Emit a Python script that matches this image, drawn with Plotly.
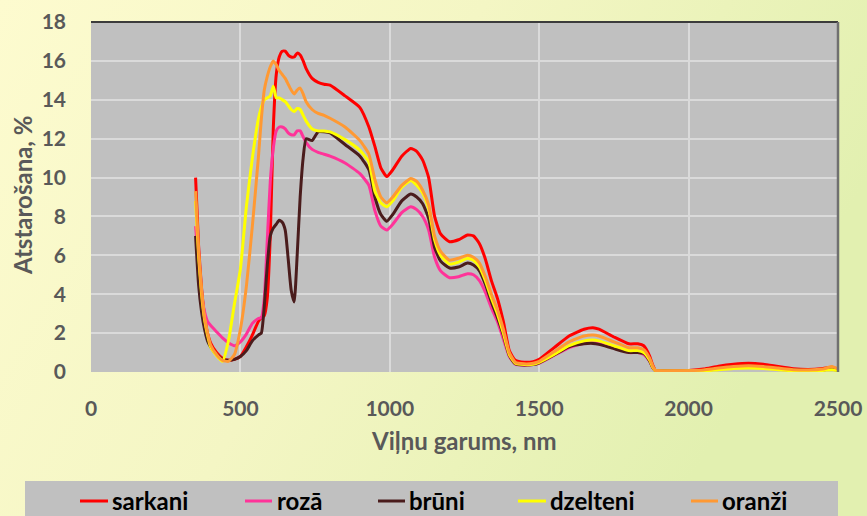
import base64
import plotly.graph_objects as go

# Wavelength grid (nm)
wavelength = [
    350, 360, 370, 380, 390, 400, 420, 440, 460, 480, 500,
    520, 540, 560, 570, 580, 590,
    600, 610, 620, 630, 640, 650, 660, 670, 680, 690, 700, 710, 720,
    740, 760, 780, 800, 850, 900, 930, 950, 970, 990,
    1010, 1040, 1070, 1090, 1110, 1130, 1150, 1170,
    1200, 1230, 1260, 1280, 1300, 1320, 1340, 1360, 1380, 1400, 1420,
    1450, 1480, 1500, 1550, 1600, 1650, 1680, 1700, 1750, 1800,
    1830, 1850, 1870, 1880, 1890, 1900, 1950, 2000,
    2050, 2100, 2150, 2200, 2250, 2300, 2350, 2400, 2450, 2480, 2500,
]

# Reflectance (%) per sample
sarkani = [
    10.0, 6.5, 4.3, 2.9, 2.0, 1.5, 1.0, 0.7, 0.6, 0.65, 0.8,
    1.3, 1.9, 2.6, 2.8, 2.9, 3.8,
    7.0, 12.5, 15.3, 16.2, 16.5, 16.5, 16.3, 16.2, 16.2, 16.4, 16.3, 16.0, 15.6,
    15.1, 14.9, 14.8, 14.75, 14.2, 13.6, 12.6, 11.6, 10.5, 10.05,
    10.4, 11.1, 11.5, 11.35, 10.9, 10.0, 8.0, 7.1,
    6.7, 6.8, 7.05, 7.0, 6.6, 5.8, 4.7, 3.8, 2.6, 1.1, 0.6,
    0.5, 0.53, 0.65, 1.25, 1.85, 2.2, 2.28, 2.2, 1.8, 1.45,
    1.45, 1.35, 0.8, 0.35, 0.07, 0.06, 0.06, 0.08,
    0.15, 0.3, 0.4, 0.45, 0.4, 0.28, 0.17, 0.13, 0.18, 0.25, 0.12,
]
roza = [
    7.5, 5.5, 4.0, 3.1, 2.6, 2.4, 2.07, 1.75, 1.5, 1.35, 1.55,
    1.95, 2.5, 2.75, 2.8, 3.8, 6.8,
    9.8, 11.5, 12.4, 12.6, 12.6, 12.5, 12.3, 12.2, 12.2, 12.4, 12.4, 12.1, 11.8,
    11.45, 11.3, 11.2, 11.1, 10.75, 10.2, 9.6, 8.3, 7.5, 7.3,
    7.6, 8.2, 8.5, 8.35, 8.0, 7.3, 5.9, 5.2,
    4.85, 4.9, 5.05, 5.0, 4.7, 4.1, 3.3, 2.6, 1.7, 0.8, 0.4,
    0.35, 0.38, 0.45, 0.85, 1.25, 1.48, 1.5, 1.45, 1.25, 1.0,
    1.0, 0.9, 0.55, 0.22, 0.06, 0.05, 0.05, 0.06,
    0.07, 0.16, 0.23, 0.26, 0.22, 0.15, 0.09, 0.08, 0.1, 0.18, 0.1,
]
bruni = [
    7.0, 4.5, 3.1, 2.2, 1.6, 1.3, 0.9, 0.65, 0.6, 0.65, 0.8,
    1.1, 1.6, 1.9, 2.0, 3.4, 5.5,
    7.0, 7.4, 7.6, 7.8, 7.7, 7.3, 5.8, 4.2, 3.6, 6.0, 9.0, 11.0, 12.0,
    11.9, 12.35, 12.35, 12.3, 11.7, 11.1, 10.4, 9.0, 8.1, 7.75,
    8.1, 8.8, 9.15, 9.0, 8.65, 7.9, 6.4, 5.7,
    5.35, 5.4, 5.6, 5.5, 5.2, 4.5, 3.6, 2.8, 1.9, 0.85, 0.42,
    0.36, 0.38, 0.47, 0.88, 1.3, 1.45, 1.47, 1.42, 1.2, 1.0,
    1.0, 0.95, 0.55, 0.22, 0.06, 0.05, 0.05, 0.06,
    0.08, 0.18, 0.27, 0.3, 0.26, 0.17, 0.1, 0.08, 0.1, 0.16, 0.08,
]
dzelteni = [
    8.8, 6.0, 4.0, 2.7, 1.9, 1.3, 0.85, 0.55, 1.6, 3.5, 5.3,
    8.5, 11.0, 13.0, 13.6, 14.0, 14.1,
    14.2, 14.7, 14.1, 14.1, 14.0, 13.9, 13.7, 13.5, 13.4, 13.55, 13.5, 13.2, 12.9,
    12.5, 12.4, 12.4, 12.35, 11.95, 11.4, 10.8, 9.3, 8.7, 8.5,
    8.8, 9.5, 9.85, 9.6, 9.2, 8.4, 6.8, 6.0,
    5.55, 5.65, 5.85, 5.75, 5.4, 4.7, 3.8, 3.0, 2.0, 0.9, 0.45,
    0.38, 0.4, 0.5, 0.9, 1.35, 1.6, 1.65, 1.6, 1.35, 1.1,
    1.1, 1.0, 0.6, 0.25, 0.06, 0.05, 0.05, 0.06,
    0.05, 0.12, 0.18, 0.2, 0.18, 0.12, 0.07, 0.06, 0.08, 0.12, 0.08,
]
oranzi = [
    9.3, 6.2, 4.2, 2.8, 2.0, 1.4, 0.9, 0.6, 0.55, 0.9, 2.2,
    4.4, 7.5, 11.0, 13.0, 14.5, 15.2,
    15.7, 16.0, 15.8, 15.5, 15.3, 15.1, 14.8, 14.5, 14.3, 14.5, 14.6, 14.3, 13.9,
    13.5, 13.3, 13.2, 13.05, 12.6, 11.9, 11.2, 9.9, 9.0, 8.7,
    9.0, 9.6, 9.95, 9.8, 9.35, 8.6, 7.0, 6.2,
    5.75, 5.85, 6.0, 5.9, 5.6, 4.9, 4.0, 3.2, 2.2, 1.0, 0.5,
    0.42, 0.45, 0.55, 1.05, 1.55, 1.85, 1.9, 1.85, 1.55, 1.25,
    1.25, 1.15, 0.7, 0.3, 0.07, 0.06, 0.06, 0.07,
    0.1, 0.2, 0.28, 0.32, 0.28, 0.2, 0.12, 0.1, 0.15, 0.28, 0.15,
]

series_names = ["sarkani", "rozā", "brūni", "dzelteni", "oranži"]
series_values = [sarkani, roza, bruni, dzelteni, oranzi]
series_colors = ["#ff0000", "#ff3399", "#4a1c1c", "#ffff00", "#ff9933"]

x_ticks = [0, 500, 1000, 1500, 2000, 2500]
y_ticks = [0, 2, 4, 6, 8, 10, 12, 14, 16, 18]

W, H = 867, 516
ML, MR, MT, MB = 91, 29, 22, 144
PW, PH = W - ML - MR, H - MT - MB

TEXT_GRAY = "#595959"
FONT = "Lato"


def px_x(px):
    return (px - ML) / PW


def px_y(py):
    return (H - MB - py) / PH


fig = go.Figure()
for name, vals, col in zip(series_names, series_values, series_colors):
    fig.add_trace(go.Scatter(
        x=wavelength, y=vals, name=name, mode="lines",
        line=dict(color=col, width=3, shape="spline", smoothing=0.5),
        showlegend=False,
    ))

# Pale yellow-green page background
svg = (
    f'<svg xmlns="http://www.w3.org/2000/svg" width="{W}" height="{H}">'
    '<defs><linearGradient id="g" x1="0" y1="0" x2="1" y2="0.35">'
    '<stop offset="0" stop-color="#fdfbcf"/>'
    '<stop offset="0.5" stop-color="#f4f6c4"/>'
    '<stop offset="1" stop-color="#e2f0b0"/>'
    '</linearGradient></defs>'
    f'<rect width="{W}" height="{H}" fill="url(#g)"/></svg>'
)
bg_src = "data:image/svg+xml;base64," + base64.b64encode(svg.encode()).decode()

shapes = [
    # plot area fill
    dict(type="rect", xref="paper", yref="paper", x0=0, x1=1, y0=0, y1=1,
         fillcolor="#c0c0c0", line=dict(width=0), layer="below"),
    # top and right edges of the plot area
    dict(type="line", xref="paper", yref="paper", x0=0, x1=1, y0=1, y1=1,
         line=dict(color="#3c3c3c", width=2), layer="above"),
    dict(type="line", xref="paper", yref="paper", x0=1, x1=1, y0=0, y1=1,
         line=dict(color="#707070", width=2.5), layer="above"),
    # legend box
    dict(type="rect", xref="paper", yref="paper",
         x0=px_x(25), x1=px_x(838), y0=px_y(481), y1=px_y(530),
         fillcolor="#c0c0c0", line=dict(width=0), layer="below"),
]

annotations = [
    dict(text="Viļņu garums, nm", xref="paper", yref="paper",
         x=px_x(464), y=px_y(440), xanchor="center", yanchor="middle",
         showarrow=False, font=dict(family=FONT, size=24, color=TEXT_GRAY, weight="bold")),
    dict(text="Atstarošana, %", xref="paper", yref="paper",
         x=px_x(22), y=px_y(196), xanchor="center", yanchor="middle", textangle=-90,
         showarrow=False, font=dict(family=FONT, size=24, color=TEXT_GRAY, weight="bold")),
]

# Legend entries: short colour line followed by the series name
legend_line_x = [(80, 108), (245, 272), (378, 405), (518, 546), (691, 718)]
legend_text_x = [110, 275, 407, 548, 720]
legend_y = 501
for name, col, (lx0, lx1), tx in zip(series_names, series_colors, legend_line_x, legend_text_x):
    shapes.append(dict(type="line", xref="paper", yref="paper",
                       x0=px_x(lx0), x1=px_x(lx1), y0=px_y(legend_y), y1=px_y(legend_y),
                       line=dict(color=col, width=3), layer="above"))
    annotations.append(dict(text=name, xref="paper", yref="paper",
                            x=px_x(tx), y=px_y(legend_y - 1), xanchor="left", yanchor="middle",
                            showarrow=False,
                            font=dict(family=FONT, size=24, color="#000000", weight="bold")))

fig.update_layout(
    width=W, height=H,
    margin=dict(l=ML, r=MR, t=MT, b=MB, pad=0, autoexpand=False),
    paper_bgcolor="#f8f8c8",
    plot_bgcolor="rgba(0,0,0,0)",
    showlegend=False,
    images=[dict(source=bg_src, xref="paper", yref="paper",
                 x=-ML / PW, y=1 + MT / PH, sizex=W / PW, sizey=H / PH,
                 xanchor="left", yanchor="top", sizing="stretch", layer="below")],
    shapes=shapes,
    annotations=annotations,
    xaxis=dict(range=[0, 2500], tickvals=x_ticks, ticktext=[str(v) for v in x_ticks],
               showgrid=True, gridcolor="#dadada", gridwidth=1.5, zeroline=False,
               showline=False, ticks="", ticklabelstandoff=22, automargin=False,
               tickfont=dict(family=FONT, size=21, color=TEXT_GRAY, weight="bold")),
    yaxis=dict(range=[0, 18], tickvals=y_ticks, ticktext=[str(v) for v in y_ticks],
               showgrid=True, gridcolor="#dadada", gridwidth=1.5, zeroline=False,
               showline=False, ticks="", ticklabelstandoff=24, automargin=False,
               tickfont=dict(family=FONT, size=21, color=TEXT_GRAY, weight="bold")),
)

fig.write_html("out.html")
